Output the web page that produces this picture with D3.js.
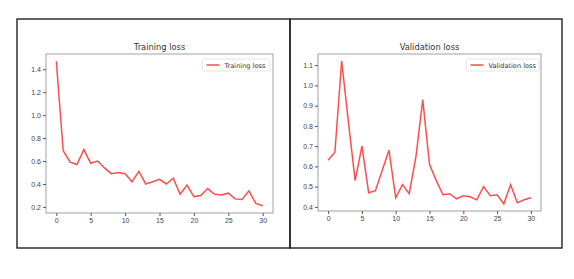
<!DOCTYPE html>
<html><head><meta charset="utf-8">
<script src="https://cdn.jsdelivr.net/npm/d3@7"></script>
<style>body{margin:0;background:#fff;}svg{display:block;font-family:"DejaVu Sans",sans-serif;}</style>
</head><body>
<svg id="c" width="574" height="279"></svg>
<script>
const epochs = d3.range(0, 31);
const trainingLoss = [1.47,0.69,0.59,0.57,0.70,0.58,0.60,0.54,0.49,0.50,0.49,0.42,0.51,0.40,0.42,0.44,0.40,0.45,0.31,0.39,0.29,0.30,0.36,0.31,0.305,0.32,0.27,0.265,0.34,0.23,0.21];
const validationLoss = [0.63,0.67,1.12,0.82,0.53,0.70,0.47,0.48,0.58,0.68,0.445,0.51,0.465,0.65,0.93,0.61,0.53,0.46,0.465,0.44,0.455,0.45,0.435,0.50,0.455,0.46,0.415,0.51,0.42,0.435,0.445];
const xTicks = [0,5,10,15,20,25,30];
const trainYTicks = [0.2,0.4,0.6,0.8,1.0,1.2,1.4];
const valYTicks = [0.4,0.5,0.6,0.7,0.8,0.9,1.0,1.1];

const svg = d3.select("#c");
svg.append("rect").attr("x",17).attr("y",19).attr("width",273).attr("height",229)
  .attr("fill","none").attr("stroke","#222").attr("stroke-width",1.4);
svg.append("rect").attr("x",290).attr("y",19).attr("width",272).attr("height",229)
  .attr("fill","none").attr("stroke","#222").attr("stroke-width",1.4);

function panel(cfg){
  const {x0,x1,y0,y1,values,yTicks,title,label,legend} = cfg;
  const ext = d3.extent(values); const m=(ext[1]-ext[0])*0.05;
  const x = d3.scaleLinear().domain([-1.5,31.5]).range([x0,x1]);
  const y = d3.scaleLinear().domain([ext[0]-m, ext[1]+m]).range([y1,y0]);
  const g = svg.append("g");
  g.append("rect").attr("x",x0).attr("y",y0).attr("width",x1-x0).attr("height",y1-y0)
    .attr("fill","#fff").attr("stroke","#aaa").attr("stroke-width",1.1);
  const xa = g.append("g").attr("transform",`translate(0,${y1})`)
    .call(d3.axisBottom(x).tickValues(xTicks).tickSize(3).tickPadding(2).tickFormat(d3.format("d")));
  const ya = g.append("g").attr("transform",`translate(${x0},0)`)
    .call(d3.axisLeft(y).tickValues(yTicks).tickSize(3).tickPadding(2).tickFormat(d3.format(".1f")));
  [xa,ya].forEach(a=>{a.select(".domain").remove();
    a.selectAll("line").attr("stroke","#555");
    a.selectAll("text").attr("fill","#444").style("font-size","7px");});
  g.append("path").datum(values)
    .attr("d", d3.line().x((d,i)=>x(epochs[i])).y(d=>y(d)))
    .attr("fill","none").attr("stroke","#ff2020").attr("stroke-opacity",0.8).attr("stroke-width",1.5);
  g.append("text").attr("x",(x0+x1)/2).attr("y",y0-4).attr("text-anchor","middle")
    .attr("fill","#333").style("font-size","8.3px").text(title);
  const lg = g.append("g");
  lg.append("rect").attr("x",legend[0]).attr("y",y0+5).attr("width",legend[1]).attr("height",12)
    .attr("rx",1.5).attr("fill","#fff").attr("stroke","#ddd").attr("stroke-width",0.8);
  lg.append("line").attr("x1",legend[0]+4).attr("x2",legend[0]+17).attr("y1",y0+11).attr("y2",y0+11)
    .attr("stroke","#ff2020").attr("stroke-opacity",0.8).attr("stroke-width",1.5);
  lg.append("text").attr("x",legend[0]+22).attr("y",y0+13.5).attr("fill","#333")
    .style("font-size","6.6px").text(label);
}
panel({x0:46,x1:273,y0:54,y1:213,values:trainingLoss,yTicks:trainYTicks,
  title:"Training loss",label:"Training loss",legend:[202.5,67.5]});
panel({x0:318,x1:541,y0:54,y1:211,values:validationLoss,yTicks:valYTicks,
  title:"Validation loss",label:"Validation loss",legend:[466.5,72.5]});
</script>
</body></html>
